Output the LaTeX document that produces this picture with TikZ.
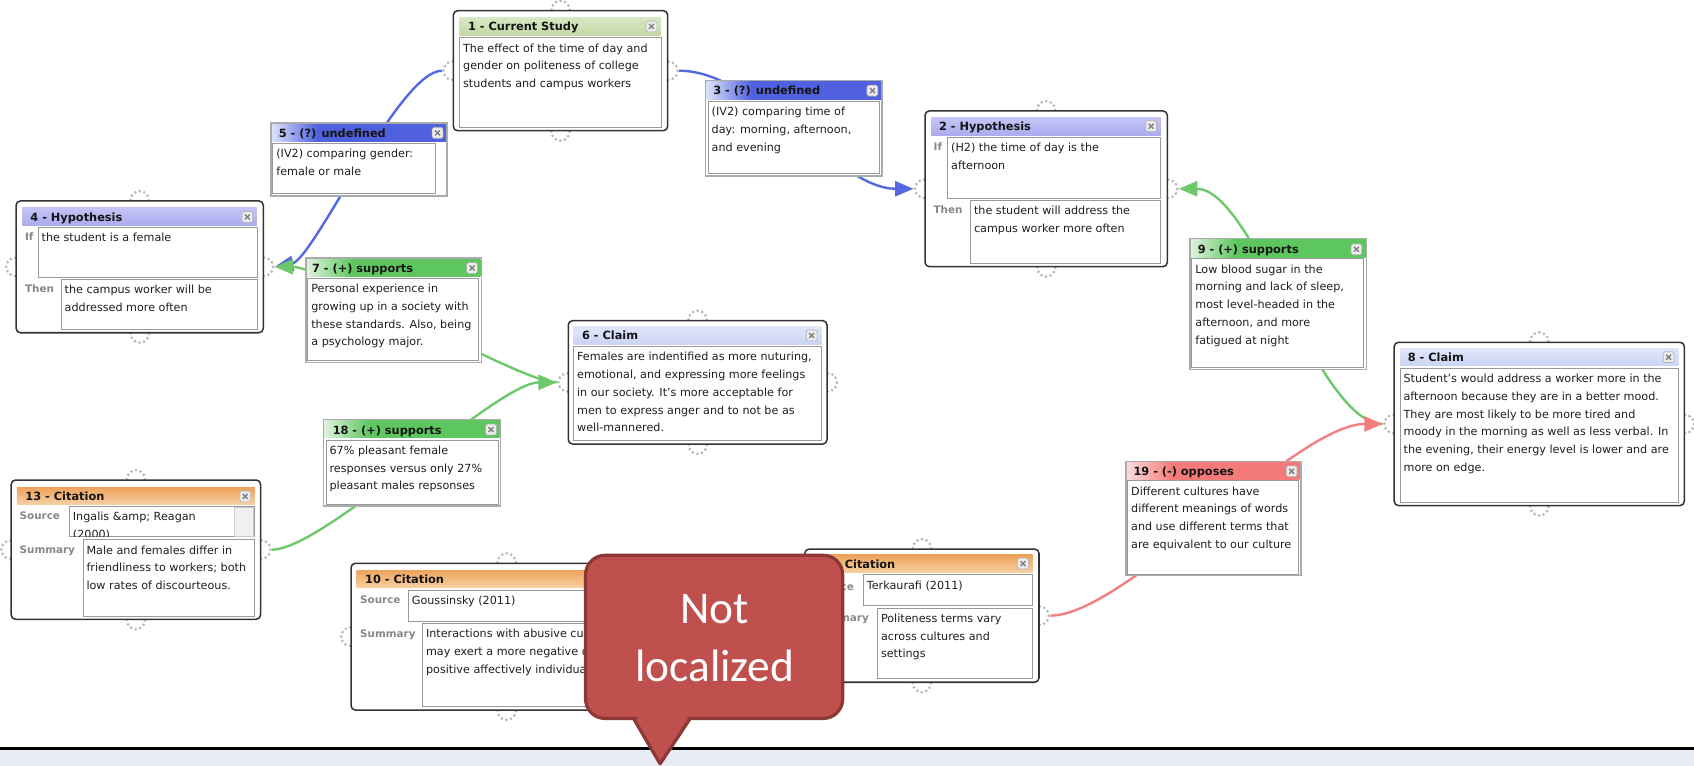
\documentclass[tikz,border=0pt]{standalone}
\usepackage{fontspec}
\setmainfont{DejaVu Sans}
\newfontfamily\calloutfont{Carlito}
\usetikzlibrary{arrows.meta,fit}
\pgfdeclarelayer{base}
\pgfdeclarelayer{lines}
\pgfdeclarelayer{front}
\pgfsetlayers{base,lines,main,front}

\definecolor{cblue}{HTML}{4F61DE}
\definecolor{cbluel}{HTML}{DCE1FA}
\definecolor{cgreen}{HTML}{5EC65E}
\definecolor{cgreenl}{HTML}{DDF2DD}
\definecolor{cred}{HTML}{F57B7B}
\definecolor{credl}{HTML}{FBDCDC}
\definecolor{lblue}{HTML}{5468E0}
\definecolor{lgreen}{HTML}{6CC86A}
\definecolor{lred}{HTML}{F27F7F}
\definecolor{studytop}{HTML}{D8E7C4}
\definecolor{studybot}{HTML}{C3D8A6}
\definecolor{hyptop}{HTML}{C5C5F7}
\definecolor{hypbot}{HTML}{ABABEF}
\definecolor{clatop}{HTML}{E0E6FA}
\definecolor{clabot}{HTML}{CCD4F5}
\definecolor{cittop}{HTML}{EDA35C}
\definecolor{citbot}{HTML}{F8D0A2}
\definecolor{calfill}{HTML}{C0504D}
\definecolor{calline}{HTML}{8C3836}
\definecolor{panel}{HTML}{E7EBF3}
\definecolor{labgray}{HTML}{8A8686}

\pgfdeclarehorizontalshading{bluebar}{100bp}{color(0bp)=(cbluel); color(25bp)=(cbluel); color(38bp)=(cblue); color(100bp)=(cblue)}
\pgfdeclarehorizontalshading{greenbar}{100bp}{color(0bp)=(cgreenl); color(25bp)=(cgreenl); color(38bp)=(cgreen); color(100bp)=(cgreen)}
\pgfdeclarehorizontalshading{redbar}{100bp}{color(0bp)=(credl); color(25bp)=(credl); color(38bp)=(cred); color(100bp)=(cred)}

\newcommand\bodyf{\fontsize{10.35}{16.4}\selectfont}
\newcommand\titlef{\bfseries\fontsize{10.5}{12}\selectfont}
\newcommand\labf{\bfseries\fontsize{9.6}{12}\selectfont}
\newcommand\fs{\rule{0pt}{8.5pt}}

\tikzset{
  outerbox/.style={draw=black!80, line width=1.4pt, rounded corners=4pt, fill=white, inner sep=0pt},
  linkbox/.style={draw=black!33, line width=1.4pt, fill=white, inner sep=0pt},
  bodybox/.style={draw=black!40, line width=0.9pt, fill=white, inner sep=0pt},
  scrollbox/.style={draw=black!20, line width=0.6pt, fill=black!6, inner sep=0pt},
  tstudy/.style={inner sep=0pt, top color=studytop, bottom color=studybot},
  thyp/.style={inner sep=0pt, top color=hyptop, bottom color=hypbot},
  tclaim/.style={inner sep=0pt, top color=clatop, bottom color=clabot},
  tcit/.style={inner sep=0pt, top color=cittop, bottom color=citbot},
  tblue/.style={inner sep=0pt, shade, shading=bluebar},
  tgreen/.style={inner sep=0pt, shade, shading=greenbar},
  tred/.style={inner sep=0pt, shade, shading=redbar},
  ttext/.style={anchor=base west, inner sep=0pt, font=\titlef, text=black!92},
  btext/.style={anchor=north west, inner sep=0pt, align=left, font=\bodyf, text=black!88},
  lab/.style={anchor=base west, inner sep=0pt, font=\labf, text=labgray},
  handle/.style={draw=black!28, line width=2.8pt, dash pattern=on 0pt off 4.4pt, line cap=round},
  conn/.style={line width=2.2pt, -{Triangle[length=17pt,width=14pt]}},
  closebtn/.style={draw=black!30, fill=black!7, rounded corners=1.5pt, minimum width=10pt,
    minimum height=10pt, inner sep=0pt, line width=0.6pt,
    path picture={\draw[black!50, line width=1.3pt]
      ([shift={(2.7pt,2.7pt)}]path picture bounding box.south west) --
      ([shift={(-2.7pt,-2.7pt)}]path picture bounding box.north east)
      ([shift={(2.7pt,-2.7pt)}]path picture bounding box.north west) --
      ([shift={(-2.7pt,2.7pt)}]path picture bounding box.south east);}},
  callout/.style={fill=calfill, draw=calline, line width=3pt, line join=round},
  calltext/.style={anchor=base, inner sep=0pt, text=white, font=\calloutfont\fontsize{42}{54}\selectfont},
}

\begin{document}
\begin{tikzpicture}[x=1pt,y=-1pt]
\useasboundingbox (0,0) rectangle (1568,709);

% ---------- base layer ----------
\begin{pgfonlayer}{base}
  \fill[white] (0,0) rectangle (1568,709);
  \fill[panel] (0,693) rectangle (1568,709);
  \draw[black, line width=2.6pt] (0,692.5) -- (1568,692.5);
\end{pgfonlayer}

% ---------- Box 1 : Current Study ----------
\node[outerbox, fit={(419.6,9.9) (618,121)}] (b1) {};
\node[tstudy, fit={(425.5,16.5) (612,32.5)}] (b1h) {};
\node[bodybox, fit={(425.5,35) (612,118)}] (b1b) {};
\node[ttext] (b1t) at (433,28.4) {1 - Current Study};
\node[closebtn] (b1c) at (603,24.5) {};
\node[btext] (b1x) at (428.5,39.5) {\fs The effect of the time of day and\\gender on politeness of college\\students and campus workers};

% ---------- Box 3 : undefined ----------
\node[linkbox, fit={(653,75) (816.5,163)}] (b3) {};
\node[tblue, fit={(654,75.8) (815.5,92)}] (b3h) {};
\node[bodybox, fit={(655.6,94.1) (814.5,160.4)}] (b3b) {};
\node[ttext] (b3t) at (660,87.8) {3 - (?) undefined};
\node[closebtn] (b3c) at (807.5,83.9) {};
\node[btext] (b3x) at (658.6,98.6) {\fs (IV2) comparing time of\\day: morning, afternoon,\\and evening};

% ---------- Box 2 : Hypothesis ----------
\node[outerbox, fit={(856.2,102.7) (1080.5,246.8)}] (b2) {};
\node[thyp, fit={(862,108.6) (1074.5,125)}] (b2h) {};
\node[bodybox, fit={(877.2,127.1) (1074.5,183.6)}] (b2i) {};
\node[bodybox, fit={(898.4,185.7) (1074.5,243.7)}] (b2e) {};
\node[ttext] (b2t) at (869,120.8) {2 - Hypothesis};
\node[closebtn] (b2c) at (1065.5,116.8) {};
\node[lab] (b2li) at (864,139.3) {If};
\node[lab] (b2le) at (864,198) {Then};
\node[btext] (b2xi) at (880.2,131.6) {\fs (H2) the time of day is the\\afternoon};
\node[btext] (b2xe) at (901.4,190.2) {\fs the student will address the\\campus worker more often};

% ---------- Box 5 : undefined ----------
\node[linkbox, fit={(250.8,114) (413.8,181.4)}] (b5) {};
\node[tblue, fit={(251.8,114.8) (412.8,131)}] (b5h) {};
\node[bodybox, fit={(252.6,132.7) (402.7,179)}] (b5b) {};
\node[ttext] (b5t) at (257.9,127.2) {5 - (?) undefined};
\node[closebtn] (b5c) at (405,123) {};
\node[btext] (b5x) at (255.6,137.2) {\fs (IV2) comparing gender:\\female or male};

% ---------- Box 4 : Hypothesis ----------
\node[outerbox, fit={(14.9,186) (243.7,308)}] (b4) {};
\node[thyp, fit={(20.5,191.9) (237.8,208.3)}] (b4h) {};
\node[bodybox, fit={(35.4,210.4) (238,256.7)}] (b4i) {};
\node[bodybox, fit={(56.7,258.5) (238,304.8)}] (b4e) {};
\node[ttext] (b4t) at (28,204.8) {4 - Hypothesis};
\node[closebtn] (b4c) at (229,200.8) {};
\node[lab] (b4li) at (23,222.6) {If};
\node[lab] (b4le) at (23,270.5) {Then};
\node[btext] (b4xi) at (38.4,214.9) {\fs the student is a female};
\node[btext] (b4xe) at (59.7,263) {\fs the campus worker will be\\addressed more often};

% ---------- Box 7 : supports ----------
\node[linkbox, fit={(283.4,239) (445.6,335.5)}] (b7) {};
\node[tgreen, fit={(284.4,239.8) (444.6,256)}] (b7h) {};
\node[bodybox, fit={(285,257.6) (442.8,333.5)}] (b7b) {};
\node[ttext] (b7t) at (288.7,252.2) {7 - (+) supports};
\node[closebtn] (b7c) at (437,248) {};
\node[btext] (b7x) at (288,262.1) {\fs Personal experience in\\growing up in a society with\\these standards. Also, being\\a psychology major.};

% ---------- Box 6 : Claim ----------
\node[outerbox, fit={(526,296.8) (765.5,411)}] (b6) {};
\node[tclaim, fit={(531,302.5) (760.5,318.5)}] (b6h) {};
\node[bodybox, fit={(531,320.9) (760.5,408)}] (b6b) {};
\node[ttext] (b6t) at (538.6,314.6) {6 - Claim};
\node[closebtn] (b6c) at (751.3,310.5) {};
\node[btext] (b6x) at (534,325.4) {\fs Females are indentified as more nuturing,\\emotional, and expressing more feelings\\in our society. It's more acceptable for\\men to express anger and to not be as\\well-mannered.};

% ---------- Box 9 : supports ----------
\node[linkbox, fit={(1101.4,221.2) (1265,341.8)}] (b9) {};
\node[tgreen, fit={(1102.4,222) (1264,238)}] (b9h) {};
\node[bodybox, fit={(1103.3,239.7) (1262.5,340)}] (b9b) {};
\node[ttext] (b9t) at (1108.5,234.6) {9 - (+) supports};
\node[closebtn] (b9c) at (1255.5,230.8) {};
\node[btext] (b9x) at (1106.3,244.2) {\fs Low blood sugar in the\\morning and lack of sleep,\\most level-headed in the\\afternoon, and more\\fatigued at night};

% ---------- Box 8 : Claim ----------
\node[outerbox, fit={(1290.5,316.8) (1559,468)}] (b8) {};
\node[tclaim, fit={(1296,322.4) (1553.5,338.5)}] (b8h) {};
\node[bodybox, fit={(1296,341) (1553.5,465)}] (b8b) {};
\node[ttext] (b8t) at (1302.9,334.8) {8 - Claim};
\node[closebtn] (b8c) at (1544.5,330.6) {};
\node[btext] (b8x) at (1299,345.5) {\fs Student's would address a worker more in the\\afternoon because they are in a better mood.\\They are most likely to be more tired and\\moody in the morning as well as less verbal. In\\the evening, their energy level is lower and are\\more on edge.};

% ---------- Box 19 : opposes ----------
\node[linkbox, fit={(1042,427.3) (1204,532.8)}] (b19) {};
\node[tred, fit={(1043,428) (1203,443.8)}] (b19h) {};
\node[bodybox, fit={(1043.8,445.2) (1202.3,531.3)}] (b19b) {};
\node[ttext] (b19t) at (1049,440.4) {19 - (-) opposes};
\node[closebtn] (b19c) at (1195.5,436.2) {};
\node[btext] (b19x) at (1046.8,449.7) {\fs Different cultures have\\different meanings of words\\and use different terms that\\are equivalent to our culture};

% ---------- Box 18 : supports ----------
\node[linkbox, fit={(299.3,388.7) (463.3,468.3)}] (b18) {};
\node[tgreen, fit={(300.3,389.5) (462.3,405)}] (b18h) {};
\node[bodybox, fit={(301.9,407.3) (461,466.5)}] (b18b) {};
\node[ttext] (b18t) at (307.8,402.2) {18 - (+) supports};
\node[closebtn] (b18c) at (454.5,397.6) {};
\node[btext] (b18x) at (304.9,411.8) {\fs 67\% pleasant female\\responses versus only 27\%\\pleasant males repsonses};

% ---------- Box 13 : Citation ----------
\node[outerbox, fit={(10.4,444.3) (241.2,573.2)}] (b13) {};
\node[tcit, fit={(15.6,451) (236,467)}] (b13h) {};
\node[bodybox, fit={(64.3,468.8) (235.4,496.7)}] (b13s) {};
\node[scrollbox, fit={(216.5,469.5) (234.9,496.2)}] (b13r) {};
\node[bodybox, fit={(76.9,499.8) (235.4,570.2)}] (b13m) {};
\node[ttext] (b13t) at (23.4,463.4) {13 - Citation};
\node[closebtn] (b13c) at (227,459.5) {};
\node[lab] (b13ls) at (18,481.2) {Source};
\node[lab] (b13lm) at (18,512.6) {Summary};
\begin{scope}
  \clip (65,469.5) rectangle (216,496.2);
  \node[btext] (b13xs) at (67.3,473.3) {\fs Ingalis \&amp; Reagan\\(2000)};
\end{scope}
\node[btext] (b13xm) at (79.9,504.3) {\fs Male and females differ in\\friendliness to workers; both\\low rates of discourteous.};

% ---------- Box 10 : Citation ----------
\node[outerbox, fit={(324.9,521.4) (613,657.2)}] (b10) {};
\node[tcit, fit={(330.1,527.6) (607.5,544)}] (b10h) {};
\node[bodybox, fit={(378,546.5) (607.5,574.8)}] (b10s) {};
\node[bodybox, fit={(391.2,577) (607.5,653.5)}] (b10m) {};
\node[ttext] (b10t) at (337.8,540.4) {10 - Citation};
\node[closebtn] (b10c) at (598.5,535.8) {};
\node[lab] (b10ls) at (333.2,559) {Source};
\node[lab] (b10lm) at (333.2,589.8) {Summary};
\node[btext] (b10xs) at (381,550.5) {\fs Goussinsky (2011)};
\node[btext] (b10xm) at (394.2,581.5) {\fs Interactions with abusive cus\\may exert a more negative o\\positive affectively individual};

% ---------- Box 11 : Citation ----------
\node[outerbox, fit={(745,508.2) (961.7,631.5)}] (b11) {};
\node[tcit, fit={(750.5,513.7) (955.8,529.7)}] (b11h) {};
\node[bodybox, fit={(799.2,532.2) (955.8,560.9)}] (b11s) {};
\node[bodybox, fit={(812.3,563) (955.8,627.8)}] (b11m) {};
\node[ttext] (b11t) at (755.5,526) {11 - Citation};
\node[closebtn] (b11c) at (946.9,521.6) {};
\node[lab] (b11ls) at (752.8,546.2) {Source};
\node[lab] (b11lm) at (752.8,575.5) {Summary};
\node[btext] (b11xs) at (802.2,536.7) {\fs Terkaurafi (2011)};
\node[btext] (b11xm) at (815.3,567.5) {\fs Politeness terms vary\\across cultures and\\settings};

% ---------- handles and connectors ----------
\coordinate (h1L) at ([xshift=-10pt]b1.west);
\coordinate (h1R) at ([xshift=10pt]b1.east);
\coordinate (h2L) at ([xshift=-10pt]b2.west);
\coordinate (h2R) at ([xshift=10pt]b2.east);
\coordinate (h4R) at ([xshift=10pt]b4.east);
\coordinate (h6L) at ([xshift=-10pt]b6.west);
\coordinate (h8L) at ([xshift=-10pt]b8.west);
\coordinate (h13R) at ([xshift=10pt]b13.east);
\coordinate (h11R) at ([xshift=10pt]b11.east);

\begin{pgfonlayer}{lines}
  \foreach \b in {b1,b2,b4,b6,b8,b13,b10,b11}{
    \foreach \a in {north,south,east,west}{
      \draw[handle] (\b.\a) circle (8.5pt);
    }
  }
  % 5 (?) undefined : 1 -> 4
  \draw[conn, lblue] (h1L) .. controls (370,65.5) and (290,240) .. (h4R);
  % 3 (?) undefined : 1 -> 2
  \draw[conn, lblue] (h1R) .. controls (700,65.5) and (775,174.7) .. (h2L);
  % 7 (+) supports : 6 -> 4
  \draw[conn, lgreen] (h6L) .. controls (480,354) and (300,247) .. (h4R);
  % 18 (+) supports : 13 -> 6
  \draw[conn, lgreen] (h13R) .. controls (300,508.7) and (460,354) .. (h6L);
  % 9 (+) supports : 8 -> 2
  \draw[conn, lgreen] (h8L) .. controls (1220,392.4) and (1160,174.7) .. (h2R);
  % 19 (-) opposes : 11 -> 8
  \draw[conn, lred] (h11R) .. controls (1040,569.9) and (1200,392.4) .. (h8L);
\end{pgfonlayer}

% ---------- callout ----------
\begin{pgfonlayer}{front}
  \path[callout] (580.5,655) -- (611,707) -- (645.5,655);
  \path[callout, rounded corners=18pt] (542,514) rectangle (780,665);
  \fill[calfill] (589,661) -- (637,661) -- (635.5,668.5) -- (590.5,668.5) -- cycle;
  \node[calltext] (co1) at (661.5,577) {Not};
  \node[calltext] (co2) at (661.5,631) {localized};
\end{pgfonlayer}
\end{tikzpicture}
\end{document}
